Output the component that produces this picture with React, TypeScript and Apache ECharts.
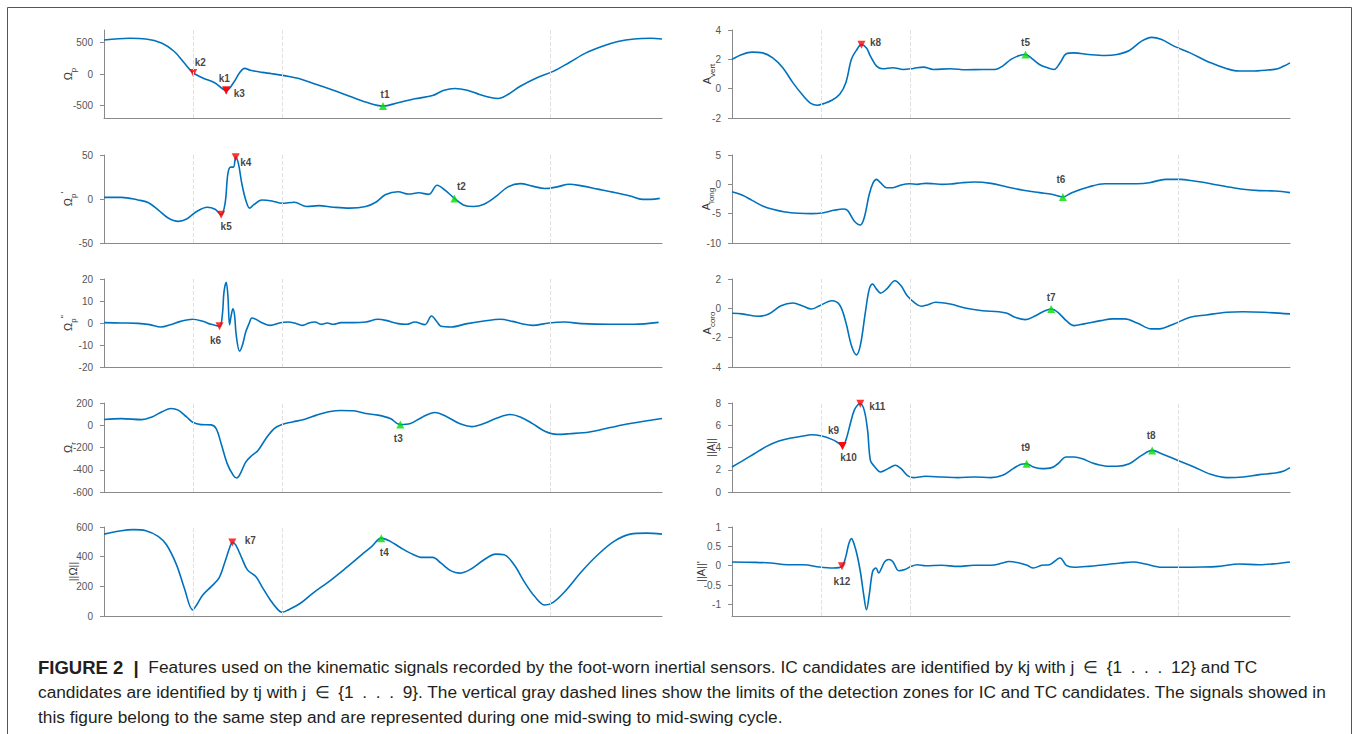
import React, { useEffect, useRef } from "react";
import * as echarts from "echarts";

// Shared time axis: percentage of one mid-swing to mid-swing cycle
const zoneLimits = [16, 32, 80];

// ---- Gyroscope signals (left column) ----
const omegaP: [number, number][] = [
  [0, 540], [4.6, 568], [7.5, 558], [10.4, 490], [12.6, 358], [14.4, 174], [16.0, 16], [17.7, -63], [19.9, -142],
  [21.9, -263], [23.2, -140], [24.3, 20], [25.2, 90], [26.2, 60], [28.3, 26], [30.1, 5], [32.3, -26], [35.2, -79],
  [38.1, -168], [41.1, -258], [44.0, -353], [46.9, -447], [50.0, -510], [52.7, -458], [55.7, -395], [58.9, -342],
  [60.8, -263], [62.9, -230], [65.1, -258], [67.3, -326], [69.5, -379], [70.6, -389], [72.4, -326], [74.6, -195],
  [77.5, -63], [80.5, 42], [83.4, 184], [86.3, 332], [89.2, 437], [92.1, 516], [95.0, 558], [98.0, 568], [100, 558],
];
const omegaP1: [number, number][] = [
  [0, 1.9], [3.1, 1.9], [6.1, -1.1], [7.9, -4], [9.7, -12.3], [11.5, -21.6], [13.3, -25.4], [14.8, -22.8], [16.6, -14.2],
  [18.5, -9.3], [19.9, -11.6], [21.0, -17.9], [21.7, -4.9], [22.2, 28.7], [22.7, 36.2], [23.2, 36.2], [23.6, 47.4],
  [24.1, 39.9], [24.7, 17.5], [25.4, -1.1], [26.1, -10.4], [26.8, -6.7], [28.3, -1.1], [30.1, -2.2], [31.9, -4.9],
  [34.1, -3.7], [36.3, -8.6], [38.5, -7.5], [41.1, -9.3], [44.0, -10.4], [46.9, -8.6], [48.7, -3.7], [50.5, 5.2],
  [52.7, 8.2], [54.6, 5.6], [56.4, 7.1], [58.2, 5.2], [59.7, 15.7], [61.1, 10.1], [62.8, 0.7], [64.4, -6.7],
  [66.2, -8.6], [68.1, -6], [70.2, 2.6], [72.4, 13.8], [74.6, 17.5], [76.8, 14.6], [79.0, 11.9], [81.2, 13.8],
  [83.4, 16.8], [85.6, 14.9], [88.5, 11.2], [91.4, 7.5], [94.3, 3.4], [96.5, -0.4], [98.0, -0.4], [99.6, 0.7],
];
const omegaP2: [number, number][] = [
  [0, 0.15], [3.1, 0], [6.1, -0.15], [8.2, -0.75], [10.2, -1.8], [11.9, -0.75], [13.7, 0.75], [15.9, 1.7], [17.7, 0.75],
  [19.2, -0.6], [20.7, -1.5], [21.2, 3.5], [21.5, 14], [21.9, 18.5], [22.2, 12.5], [22.5, -0.75], [22.8, 3.5],
  [23.1, 6.5], [23.4, 3.5], [23.7, -5.6], [24.3, -12.8], [24.8, -10.1], [25.4, -4.1], [26.0, -0.3], [26.5, 2.3],
  [27.2, 1.7], [28.3, 0.15], [29.8, -1.1], [31.6, 0.15], [33.0, 0.45], [34.5, -0.3], [35.6, -1.1], [36.7, 0],
  [37.8, 0.45], [38.9, -0.6], [40.0, 0], [41.1, -0.6], [42.5, 0.15], [44.7, 0.15], [46.9, 0.45], [49.1, 1.7],
  [50.5, 1.2], [52.7, -0.3], [54.2, -0.6], [55.7, 0.45], [57.5, -0.75], [58.7, 3.2], [59.7, 0.45], [60.4, -1.5],
  [62.2, -1.8], [65.1, -0.3], [68.1, 0.9], [71.0, 1.7], [73.2, 0.75], [75.3, -0.6], [76.8, -1.1], [79.7, 0],
  [82.6, 0.45], [85.6, -0.3], [90.7, -0.6], [95.0, -0.6], [99.4, 0.3],
];
const omegaR: [number, number][] = [
  [0, 51], [3.1, 60], [6.8, 51], [8.6, 75], [10.4, 121], [12.0, 151], [13.3, 136], [14.8, 75], [16.0, 24], [17.4, 6],
  [19.2, 3], [20.1, -30], [21.0, -166], [22.1, -347], [23.2, -453], [23.8, -474], [24.4, -438], [25.4, -332],
  [26.5, -272], [27.6, -227], [29.0, -121], [30.5, -30], [31.9, 6], [33.8, 30], [36.0, 54], [38.1, 91], [40.3, 121],
  [42.5, 133], [44.7, 130], [46.9, 106], [49.1, 91], [51.3, 60], [53.1, 6], [54.9, 15], [57.1, 75], [59.3, 115],
  [61.5, 75], [63.7, 15], [65.9, -12], [68.1, 15], [70.2, 60], [72.8, 97], [74.6, 75], [76.8, 15], [79.0, -54],
  [81.2, -82], [83.4, -76], [87.0, -60], [90.7, -21], [94.3, 15], [98.0, 45], [100, 60],
];
const omegaNorm: [number, number][] = [
  [0, 552], [3.1, 575], [5.3, 582], [7.5, 575], [9.7, 537], [11.2, 480], [13.0, 345], [14.4, 187], [15.9, 41],
  [16.6, 74], [17.7, 142], [19.2, 198], [20.6, 255], [21.7, 368], [22.5, 458], [23.0, 496], [23.6, 480], [24.7, 390],
  [25.7, 311], [27.2, 266], [28.3, 198], [29.8, 108], [31.2, 41], [31.9, 25], [33.0, 41], [35.2, 86], [37.4, 153],
  [40.3, 232], [43.3, 322], [46.2, 413], [48.0, 469], [49.7, 525], [51.3, 503], [53.1, 462], [54.9, 424], [57.1, 395],
  [58.9, 395], [60.4, 356], [62.2, 304], [63.7, 289], [65.5, 311], [68.1, 379], [70.2, 417], [71.7, 413], [73.5, 345],
  [75.3, 232], [77.2, 131], [79.0, 74], [80.5, 92], [82.6, 165], [85.6, 300], [88.5, 413], [91.4, 503], [94.3, 552],
  [97.2, 559], [100, 552],
];

// ---- Accelerometer signals (right column) ----
const aVert: [number, number][] = [
  [0, 2.0], [1.8, 2.33], [3.6, 2.49], [5.5, 2.44], [7.3, 2.1], [9.1, 1.43], [10.9, 0.41], [12.8, -0.5], [14.2, -1.02],
  [15.3, -1.13], [16.4, -1.02], [17.9, -0.79], [19.3, -0.38], [20.4, 0.41], [21.4, 2.0], [22.3, 2.62], [23.2, 3.0],
  [24.1, 2.78], [24.8, 2.22], [25.9, 1.54], [27.0, 1.36], [28.8, 1.43], [30.7, 1.31], [32.5, 1.38], [34.3, 1.47],
  [36.1, 1.31], [39.1, 1.36], [42.0, 1.29], [44.9, 1.31], [47.1, 1.31], [48.5, 1.54], [50.0, 2.0], [51.5, 2.26],
  [52.6, 2.33], [53.6, 2.1], [55.1, 1.65], [56.2, 1.47], [57.7, 1.31], [58.8, 1.76], [59.9, 2.38], [61.3, 2.44],
  [63.9, 2.33], [66.8, 2.26], [69.0, 2.33], [71.2, 2.6], [73.4, 3.24], [75.2, 3.5], [77.0, 3.35], [79.2, 2.9],
  [82.1, 2.44], [85.8, 1.76], [88.7, 1.36], [90.9, 1.2], [93.1, 1.2], [96.0, 1.27], [97.8, 1.36], [98.9, 1.54], [100, 1.76],
];
const aLong: [number, number][] = [
  [0, -1.25], [1.8, -1.82], [3.6, -2.73], [5.5, -3.69], [7.3, -4.26], [9.5, -4.72], [12.0, -4.94], [14.2, -5.0],
  [16.4, -4.83], [18.2, -4.43], [20.1, -4.2], [20.8, -4.55], [21.9, -6.25], [23.0, -6.93], [23.7, -5.68], [24.6, -1.7],
  [25.3, 0.28], [25.9, 0.85], [26.6, 0.28], [27.7, -0.57], [28.8, -0.57], [30.3, -0.11], [31.8, 0.11], [33.2, 0],
  [34.7, 0.17], [36.1, 0.11], [37.6, 0], [39.1, 0.06], [41.2, 0.28], [43.4, 0.4], [46.4, 0.17], [49.3, -0.45],
  [52.2, -1.02], [55.1, -1.42], [57.3, -1.7], [59.3, -2.16], [60.9, -1.42], [63.9, -0.45], [66.8, 0.11], [69.7, 0.11],
  [72.6, 0.11], [74.8, 0.28], [77.7, 0.85], [80.3, 0.85], [82.8, 0.57], [85.8, 0.11], [88.7, -0.4], [91.6, -0.85],
  [94.5, -1.08], [97.4, -1.14], [100, -1.42],
];
const aCoro: [number, number][] = [
  [0, -0.34], [1.8, -0.38], [4.7, -0.54], [6.6, -0.38], [8.8, 0.18], [10.9, 0.36], [12.8, 0.14], [14.2, -0.05],
  [15.7, 0.18], [17.9, 0.52], [19.3, 0.23], [20.4, -0.95], [21.4, -2.53], [22.3, -3.17], [23.0, -2.53], [23.9, -0.27],
  [24.6, 1.31], [25.2, 1.65], [25.9, 1.31], [26.6, 1.04], [27.7, 1.31], [29.2, 1.88], [30.3, 1.54], [31.4, 0.86],
  [32.8, 0.36], [33.9, 0.14], [35.0, 0.23], [36.5, 0.41], [39.1, 0.29], [42.0, 0], [44.9, -0.16], [47.8, -0.23],
  [49.3, -0.34], [50.7, -0.61], [52.6, -0.77], [54.4, -0.5], [56.1, -0.16], [57.2, -0.05], [58.4, -0.27], [59.9, -0.84],
  [61.3, -1.18], [63.1, -1.06], [66.1, -0.84], [68.2, -0.72], [70.4, -0.72], [72.6, -1.0], [75.2, -1.4], [76.6, -1.4],
  [79.2, -1.06], [82.1, -0.61], [85.0, -0.45], [88.7, -0.27], [91.6, -0.23], [95.3, -0.27], [100, -0.38],
];
const aNorm: [number, number][] = [
  [0, 2.25], [1.8, 2.78], [4.0, 3.44], [6.2, 4.1], [8.4, 4.58], [10.6, 4.85], [12.8, 5.03], [14.2, 5.15], [16.1, 5.03],
  [17.9, 4.73], [19.0, 4.43], [19.8, 4.13], [20.4, 4.64], [21.2, 6.14], [21.9, 7.34], [22.6, 7.87], [23.0, 7.93],
  [23.7, 7.34], [24.3, 5.54], [24.8, 2.84], [25.5, 2.31], [26.6, 1.8], [27.4, 1.95], [28.5, 2.25], [29.3, 2.4],
  [30.3, 2.1], [31.4, 1.5], [32.5, 1.29], [34.7, 1.41], [37.6, 1.35], [40.5, 1.29], [43.4, 1.35], [46.4, 1.29],
  [48.5, 1.5], [50.4, 2.1], [51.8, 2.49], [52.8, 2.54], [54.0, 2.25], [55.5, 2.1], [57.3, 2.19], [58.4, 2.54],
  [59.9, 3.14], [61.3, 3.14], [62.8, 2.99], [64.6, 2.6], [66.8, 2.34], [69.0, 2.31], [71.2, 2.54], [73.4, 3.29],
  [75.3, 3.74], [77.0, 3.44], [79.9, 2.84], [82.8, 2.25], [85.8, 1.59], [88.7, 1.29], [91.6, 1.35], [94.5, 1.56],
  [97.4, 1.71], [98.9, 1.89], [100, 2.19],
];
const aNormD: [number, number][] = [
  [0, 0.095], [4.0, 0.087], [6.9, 0.07], [9.9, 0.026], [12.8, 0.026], [15.7, -0.035], [18.2, -0.06], [19.7, -0.017],
  [20.4, 0.24], [20.9, 0.55], [21.4, 0.7], [21.9, 0.55], [22.4, 0.29], [23.0, -0.15], [23.6, -0.75], [24.1, -1.14],
  [24.6, -0.75], [25.2, -0.15], [25.8, -0.06], [26.3, -0.19], [26.8, -0.06], [27.4, 0.11], [28.1, 0.16], [28.8, 0.11],
  [29.9, -0.13], [31.0, -0.1], [32.1, -0.017], [33.2, 0.026], [34.7, 0], [37.6, 0.01], [40.5, -0.017], [43.4, 0.01],
  [46.4, 0.01], [48.5, 0.07], [49.6, 0.11], [51.5, 0.07], [52.9, 0.01], [54.0, -0.06], [55.5, 0.01], [56.9, 0.026],
  [58.8, 0.2], [59.9, 0.01], [61.3, -0.04], [63.9, -0.017], [66.8, 0.026], [69.7, 0.07], [71.9, 0.095], [74.1, 0.043],
  [77.0, -0.04], [79.9, -0.04], [84.3, -0.035], [87.2, -0.017], [90.9, 0.043], [94.5, 0.026], [97.4, 0.052], [100, 0.095],
];

// ---- Candidate events: [label, time, value] ----
type Mark = [string, number, number];
const omegaPMarks: Mark[] = [["k2", 16.0, 16], ["k1", 21.9, -263], ["k3", 21.9, -263], ["t1", 50.0, -510]];
const omegaP1Marks: Mark[] = [["k4", 23.6, 47.4], ["k5", 21.0, -17.9], ["t2", 62.8, 0.7]];
const omegaP2Marks: Mark[] = [["k6", 20.7, -1.5]];
const omegaRMarks: Mark[] = [["t3", 53.1, 6]];
const omegaNormMarks: Mark[] = [["k7", 23.0, 496], ["t4", 49.7, 525]];
const aVertMarks: Mark[] = [["k8", 23.2, 3.0], ["t5", 52.6, 2.33]];
const aLongMarks: Mark[] = [["t6", 59.3, -2.16]];
const aCoroMarks: Mark[] = [["t7", 57.2, -0.05]];
const aNormMarks: Mark[] = [["k9", 19.8, 4.13], ["k10", 19.8, 4.13], ["k11", 23.0, 7.93], ["t9", 52.8, 2.54], ["t8", 75.3, 3.74]];
const aNormDMarks: Mark[] = [["k12", 19.7, -0.017]];

// ---- Tick values ----
const omegaPTicks = [-500, 0, 500];
const aNormDTicks = [-1, -0.5, 0, 0.5, 1];

// label placement (pixels from marker centre)
const labelOffsets: Record<string, [number, number]> = {
  k1: [-2, -12], k2: [7, -10], k3: [13, 3], t1: [2, -12],
  k4: [10, 5], k5: [5, 12], t2: [7, -12], k6: [-4, 14], t3: [-2, 14],
  k7: [18, -2], t4: [3, 14], k8: [14, -2], t5: [0, -12], t6: [-2, -18], t7: [0, -12],
  k9: [-9, -16], k10: [6, 11], k11: [17, 3], t9: [-1, -16], t8: [-1, -15], k12: [0, 15],
};

const FONT = "'Liberation Sans', Arial, Helvetica, sans-serif";
const AXIS = "#8a8a8a";
const LINE = "#0072BD";

interface Panel {
  data: [number, number][];
  marks: Mark[];
  name: string;
  min: number;
  max: number;
  interval?: number;
  ticks?: number[];
  col: number;
  top: number;
  bottom: number;
  nameGap: number;
}

const panels: Panel[] = [
  { data: omegaP, marks: omegaPMarks, name: "{b|Ω}{s|p}", min: -700, max: 700, ticks: omegaPTicks, col: 0, top: 30, bottom: 118, nameGap: 27 },
  { data: omegaP1, marks: omegaP1Marks, name: "{b|Ω}{s|p}{u|'}", min: -50, max: 50, interval: 50, col: 0, top: 155, bottom: 243, nameGap: 27 },
  { data: omegaP2, marks: omegaP2Marks, name: "{b|Ω}{s|p}{u|''}", min: -20, max: 20, interval: 10, col: 0, top: 279, bottom: 367, nameGap: 27 },
  { data: omegaR, marks: omegaRMarks, name: "{b|Ω}{s|r}", min: -600, max: 200, interval: 200, col: 0, top: 403, bottom: 492, nameGap: 27 },
  { data: omegaNorm, marks: omegaNormMarks, name: "{b|||Ω||}", min: 0, max: 600, interval: 200, col: 0, top: 527, bottom: 616, nameGap: 22 },
  { data: aVert, marks: aVertMarks, name: "{b|A}{s|vert}", min: -2, max: 4, interval: 2, col: 1, top: 30, bottom: 118, nameGap: 16 },
  { data: aLong, marks: aLongMarks, name: "{b|A}{s|long}", min: -10, max: 5, interval: 5, col: 1, top: 155, bottom: 243, nameGap: 17 },
  { data: aCoro, marks: aCoroMarks, name: "{b|A}{s|coro}", min: -4, max: 2, interval: 2, col: 1, top: 279, bottom: 367, nameGap: 16 },
  { data: aNorm, marks: aNormMarks, name: "{b|||A||}", min: 0, max: 8, interval: 2, col: 1, top: 403, bottom: 492, nameGap: 12 },
  { data: aNormD, marks: aNormDMarks, name: "{b|||A||'}", min: -1.3, max: 1, ticks: aNormDTicks, col: 1, top: 527, bottom: 616, nameGap: 22 },
];

const EN = "\u2002";
const captionLines = [
  `{b|FIGURE 2  |}  Features used on the kinematic signals recorded by the foot-worn inertial sensors. IC candidates are identified by kj with j${EN}∈${EN}{1${EN}.${EN}.${EN}.${EN}12} and TC`,
  `candidates are identified by tj with j${EN}∈${EN}{1${EN}.${EN}.${EN}.${EN}9}. The vertical gray dashed lines show the limits of the detection zones for IC and TC candidates. The signals showed in`,
  "this figure belong to the same step and are represented during one mid-swing to mid-swing cycle.",
];

const DOWN = "path://M0,0 L10,0 L5,9 Z";
const UP = "path://M5,0 L10,9 L0,9 Z";

export default function App() {
  const ref = useRef<HTMLDivElement>(null);
  useEffect(() => {
    document.body.style.margin = "0";
    const chart = echarts.init(ref.current!, undefined, { renderer: "svg" });
    const grid: any[] = [];
    const xAxis: any[] = [];
    const yAxis: any[] = [];
    const series: any[] = [];
    const nameRich = {
      b: { fontSize: 11, fontFamily: FONT, color: "#333", lineHeight: 18 },
      s: { fontSize: 8, fontFamily: FONT, color: "#333", lineHeight: 9, verticalAlign: "bottom" },
      u: { fontSize: 9, fontFamily: FONT, color: "#333", lineHeight: 9, verticalAlign: "top" },
    };
    panels.forEach((p, i) => {
      grid.push({ left: p.col === 0 ? 104 : 732, width: 558, top: p.top, height: p.bottom - p.top });
      xAxis.push({
        type: "value", gridIndex: i, min: 0, max: 100,
        axisLine: { show: true, onZero: false, lineStyle: { color: AXIS, width: 1 } },
        axisTick: { show: false }, axisLabel: { show: false }, splitLine: { show: false },
      });
      yAxis.push({
        type: "value", gridIndex: i, min: p.min, max: p.max, interval: p.interval,
        name: p.name, nameLocation: "middle", nameGap: p.nameGap, nameMoveOverlap: false,
        nameTextStyle: { rich: nameRich },
        axisLine: { show: true, onZero: false, lineStyle: { color: AXIS, width: 1 } },
        axisTick: { show: true, inside: false, length: 4, lineStyle: { color: AXIS }, customValues: p.ticks },
        axisLabel: { margin: 11, fontSize: 10, color: "#555", fontFamily: FONT, customValues: p.ticks },
        splitLine: { show: false },
      });
      series.push({
        type: "line", xAxisIndex: i, yAxisIndex: i, data: p.data, showSymbol: false, smooth: 0.35,
        lineStyle: { color: LINE, width: 1.6 }, z: 2, silent: true,
        markLine: {
          silent: true, symbol: ["none", "none"], label: { show: false },
          lineStyle: { color: "#e0e0e0", type: "dashed", width: 1 },
          data: zoneLimits.map((v) => ({ xAxis: v })),
        },
      });
      series.push({
        type: "scatter", xAxisIndex: i, yAxisIndex: i, symbolSize: 8, z: 3, silent: true,
        data: p.marks.map(([name, x, y]) => {
          const isK = name.startsWith("k");
          return {
            value: [x, y],
            symbol: isK ? DOWN : UP,
            itemStyle: { color: isK ? "#ff0000" : "#00dd00" },
            label: {
              show: true, formatter: name, position: "inside", offset: labelOffsets[name],
              fontWeight: "bold", fontSize: 10, color: "#111", fontFamily: FONT,
            },
          };
        }),
      });
    });
    const graphic: any[] = [
      {
        type: "rect", silent: true,
        shape: { x: 7.5, y: 7.5, width: 1344, height: 760 },
        style: { fill: "none", stroke: "#555", lineWidth: 1 },
      },
      ...captionLines.map((t, k) => ({
        type: "text", x: 38, y: 667 + k * 25, silent: true,
        style: {
          text: t, fontSize: 17.3, fontFamily: FONT, fill: "#231f20", verticalAlign: "middle",
          rich: { b: { fontSize: 18.5, fontFamily: FONT, fontWeight: "bold", fill: "#231f20" } },
        },
      })),
    ];
    chart.setOption({ animation: false, grid, xAxis, yAxis, series, graphic });
    return () => chart.dispose();
  }, []);
  return <div ref={ref} style={{ width: 1358, height: 734 }} />;
}
